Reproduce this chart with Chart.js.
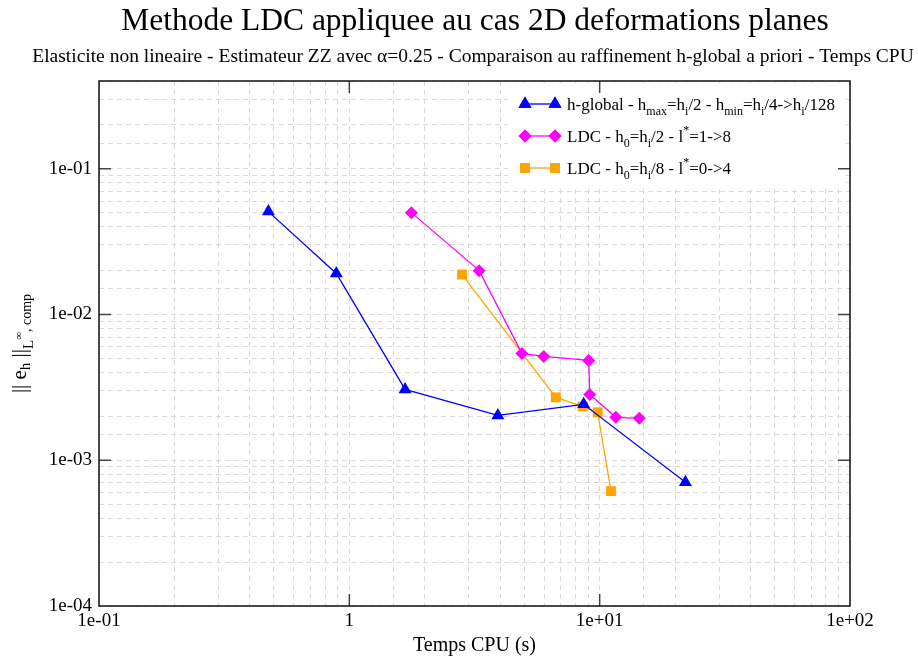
<!DOCTYPE html>
<html>
<head>
<meta charset="utf-8">
<script src="https://cdn.jsdelivr.net/npm/chart.js@4/dist/chart.umd.min.js"></script>
<style>
  html, body { margin: 0; padding: 0; background: #fff; }
  #wrap { width: 918px; height: 662px; }
</style>
</head>
<body>
<div id="wrap"><canvas id="ldcChart" width="918" height="662"></canvas></div>
<script>
'use strict';

const TITLE    = 'Methode LDC appliquee au cas 2D deformations planes';
const SUBTITLE = 'Elasticite non lineaire - Estimateur ZZ avec \u03b1=0.25 - Comparaison au raffinement h-global a priori - Temps CPU';
const X_TITLE  = 'Temps CPU (s)';

const xTicks      = [0.1, 1, 10, 100];
const xTickLabels = ['1e-01', '1', '1e+01', '1e+02'];
const yTicks      = [1e-4, 1e-3, 1e-2, 1e-1];
const yTickLabels = ['1e-04', '1e-03', '1e-02', '1e-01'];

// h-global reference refinement
const hGlobalCpu = [0.475, 0.887, 1.67, 3.92, 8.63, 22.0];
const hGlobalErr = [0.0508, 0.0191, 0.00306, 0.00203, 0.00242, 0.000707];

// LDC h0 = hi/2, l* = 1 -> 8
const ldc2Cpu = [1.77, 3.30, 4.89, 5.98, 9.04, 9.13, 11.6, 14.4];
const ldc2Err = [0.0500, 0.0200, 0.00541, 0.00516, 0.00484, 0.00283, 0.00197, 0.00194];

// LDC h0 = hi/8, l* = 0 -> 4
const ldc8Cpu = [2.82, 6.68, 8.56, 9.82, 11.1];
const ldc8Err = [0.0188, 0.00270, 0.00234, 0.00213, 0.000614];

const FONT = "'Liberation Serif', 'DejaVu Serif', serif";
const BLUE = '#0000ff', MAGENTA = '#ff00ff', ORANGE = '#ffa500';

const toPoints = (xs, ys) => xs.map((x, i) => ({ x, y: ys[i] }));

function majorLabel(value, ticks, labels) {
  const i = ticks.findIndex((t) => Math.abs(Math.log10(value) - Math.log10(t)) < 1e-6);
  return i >= 0 ? labels[i] : '';
}

// segments: [text, kind, size?, shift?] with kind n = normal, b = subscript, p = superscript
function richWidth(ctx, segs, size, small) {
  let w = 0;
  segs.forEach(([t, k, s]) => {
    ctx.font = `${k === 'n' ? size : (s || small)}px ${FONT}`;
    w += ctx.measureText(t).width;
  });
  return w;
}

function drawRich(ctx, x, y, segs, size, small, shifts) {
  let cx = x;
  segs.forEach(([t, k, s, d]) => {
    ctx.font = `${k === 'n' ? size : (s || small)}px ${FONT}`;
    const dy = d !== undefined ? d : (k === 'b' ? shifts.b : k === 'p' ? shifts.p : 0);
    ctx.fillText(t, cx, y + dy);
    cx += ctx.measureText(t).width;
  });
}

const MARK = {
  triangle: 7.5,
  rectRot: 6.5,
  rect: 7,
};

const legendRows = [
  { color: BLUE, style: 'triangle', segs: [
    ['h-global - h', 'n'], ['max', 'b'], ['=h', 'n'], ['i', 'b'], ['/2 - h', 'n'], ['min', 'b'],
    ['=h', 'n'], ['i', 'b'], ['/4->h', 'n'], ['i', 'b'], ['/128', 'n']] },
  { color: MAGENTA, style: 'rectRot', segs: [
    ['LDC - h', 'n'], ['0', 'b'], ['=h', 'n'], ['i', 'b'], ['/2 - l', 'n'], ['*', 'p'], ['=1->8', 'n']] },
  { color: ORANGE, style: 'rect', segs: [
    ['LDC - h', 'n'], ['0', 'b'], ['=h', 'n'], ['i', 'b'], ['/8 - l', 'n'], ['*', 'p'], ['=0->4', 'n']] },
];

const yTitleSegs = [
  ['|| e', 'n'], ['h', 'b', 15, 4], [' ||', 'n'], ['L', 'b', 15, 7], ['\u221e', 'p', 11, -4], [', comp', 'b', 14, 5],
];

const framePlugin = {
  id: 'frame',
  afterDraw(chart) {
    const { ctx, chartArea: a, scales: { x, y } } = chart;
    ctx.save();

    // legend box (hides the grid behind it)
    ctx.fillStyle = '#fff';
    ctx.fillRect(508, 83, 334, 104);
    legendRows.forEach((row, i) => {
      const ry = 104 + i * 32;
      ctx.strokeStyle = row.color;
      ctx.lineWidth = 1.3;
      ctx.beginPath(); ctx.moveTo(525, ry); ctx.lineTo(555, ry); ctx.stroke();
      ctx.fillStyle = row.color;
      [525, 555].forEach((px) => {
        Chart.helpers.drawPoint(ctx, { pointStyle: row.style, radius: MARK[row.style], borderWidth: 0, rotation: 0 }, px, ry);
        ctx.fill();
      });
      ctx.fillStyle = '#000';
      ctx.textAlign = 'left';
      ctx.textBaseline = 'alphabetic';
      drawRich(ctx, 567, ry + 6, row.segs, 17, 12, { b: 5, p: -8 });
    });

    // inward major tick marks on all four sides
    ctx.strokeStyle = '#444';
    ctx.lineWidth = 1.5;
    ctx.beginPath();
    xTicks.forEach((t) => {
      const px = x.getPixelForValue(t);
      if (px <= a.left + 1 || px >= a.right - 1) return;
      ctx.moveTo(px, a.bottom); ctx.lineTo(px, a.bottom - 12);
      ctx.moveTo(px, a.top); ctx.lineTo(px, a.top + 12);
    });
    yTicks.forEach((t) => {
      const py = y.getPixelForValue(t);
      if (py <= a.top + 1 || py >= a.bottom - 1) return;
      ctx.moveTo(a.left, py); ctx.lineTo(a.left + 12, py);
      ctx.moveTo(a.right, py); ctx.lineTo(a.right - 12, py);
    });
    ctx.stroke();

    // frame
    ctx.strokeStyle = '#111';
    ctx.lineWidth = 1.5;
    ctx.strokeRect(a.left, a.top, a.right - a.left, a.bottom - a.top);

    // titles
    ctx.fillStyle = '#000';
    ctx.textAlign = 'center';
    ctx.textBaseline = 'alphabetic';
    ctx.font = `31.5px ${FONT}`;
    ctx.fillText(TITLE, 475, 30);
    ctx.font = `19.5px ${FONT}`;
    ctx.fillText(SUBTITLE, 473, 62);
    ctx.font = `20px ${FONT}`;
    ctx.fillText(X_TITLE, (a.left + a.right) / 2, 651);

    // y axis title, rotated
    ctx.translate(26, (a.top + a.bottom) / 2);
    ctx.rotate(-Math.PI / 2);
    ctx.textAlign = 'left';
    const w = richWidth(ctx, yTitleSegs, 21, 15);
    drawRich(ctx, -w / 2, 0, yTitleSegs, 21, 15, { b: 5, p: -4 });

    ctx.restore();
  },
};

const tickFont = { family: FONT, size: 19 };

const series = (label, xs, ys, color, style) => ({
  label,
  data: toPoints(xs, ys),
  showLine: true,
  borderColor: color,
  backgroundColor: color,
  borderWidth: 1.3,
  pointStyle: style,
  pointRadius: MARK[style],
  pointBorderWidth: 0,
});

new Chart(document.getElementById('ldcChart'), {
  type: 'scatter',
  data: {
    datasets: [
      series('h-global', hGlobalCpu, hGlobalErr, BLUE, 'triangle'),
      series('LDC hi/2', ldc2Cpu, ldc2Err, MAGENTA, 'rectRot'),
      series('LDC hi/8', ldc8Cpu, ldc8Err, ORANGE, 'rect'),
    ],
  },
  options: {
    responsive: false,
    animation: false,
    events: [],
    layout: { padding: { top: 81, right: 68, bottom: 0, left: 0 } },
    plugins: {
      legend: { display: false },
      title: { display: false },
      tooltip: { enabled: false },
    },
    scales: {
      x: {
        type: 'logarithmic',
        min: 0.1,
        max: 100,
        afterFit: (s) => { s.height = 56; },
        grid: { color: '#d9d9d9', lineWidth: 1, drawTicks: false },
        border: { display: false, dash: [5, 4] },
        ticks: {
          autoSkip: false,
          maxRotation: 0,
          padding: 4,
          color: '#000',
          font: tickFont,
          callback: (v) => majorLabel(v, xTicks, xTickLabels),
        },
      },
      y: {
        type: 'logarithmic',
        min: 1e-4,
        max: 0.4,
        afterFit: (s) => { s.width = 99; },
        grid: { color: '#d9d9d9', lineWidth: 1, drawTicks: false },
        border: { display: false, dash: [5, 4] },
        ticks: {
          autoSkip: false,
          padding: 7,
          color: '#000',
          font: tickFont,
          callback: (v) => majorLabel(v, yTicks, yTickLabels),
        },
      },
    },
  },
  plugins: [framePlugin],
});
</script>
</body>
</html>
